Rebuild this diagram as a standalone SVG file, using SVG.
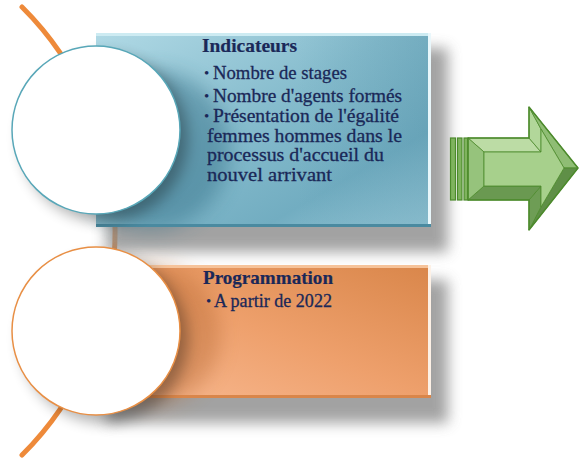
<svg xmlns="http://www.w3.org/2000/svg" width="582" height="459" viewBox="0 0 582 459">
  <style>
    .head { font-family: "Liberation Serif", "Times New Roman", serif; font-weight: bold; font-size: 19px; fill: #1a2858; stroke: #1a2858; stroke-width: 0.2; }
    .item { font-family: "Liberation Serif", "Times New Roman", serif; font-size: 19px; fill: #1a2858; stroke: #1a2858; stroke-width: 0.3; }
    .dot { font-family: "Liberation Serif", "Times New Roman", serif; font-size: 15px; fill: #1a2858; }
    .disc { fill: #ffffff; stroke-width: 1.5; }
    .ring { fill: none; stroke: #ee8a3a; stroke-width: 5; stroke-linecap: round; }
    .bar { fill: #7fb35e; stroke: #4c8a2c; stroke-width: 1.2; }
    .facet { stroke: #4c8a2c; stroke-width: 0.8; stroke-linejoin: round; }
  </style>
  <defs>
    <filter id="soft" x="-20%" y="-20%" width="140%" height="140%">
      <feGaussianBlur stdDeviation="7"/>
    </filter>
    <filter id="softer" x="-30%" y="-30%" width="160%" height="160%">
      <feGaussianBlur stdDeviation="10"/>
    </filter>
    <linearGradient id="blueFill" x1="0" y1="0" x2="1" y2="1">
      <stop offset="0" stop-color="#b0d9e5"/>
      <stop offset="0.45" stop-color="#86bccd"/>
      <stop offset="0.75" stop-color="#72adc1"/>
      <stop offset="1" stop-color="#9bcbda"/>
    </linearGradient>
    <linearGradient id="blueRight" x1="0" y1="0" x2="1" y2="0">
      <stop offset="0.6" stop-color="#3f7f97" stop-opacity="0"/>
      <stop offset="1" stop-color="#3f7f97" stop-opacity="0.22"/>
    </linearGradient>
    <linearGradient id="orangeFill" x1="1" y1="0" x2="0" y2="1">
      <stop offset="0" stop-color="#d9864a"/>
      <stop offset="0.5" stop-color="#eea06c"/>
      <stop offset="1" stop-color="#f9bb94"/>
    </linearGradient>
  </defs>

  <!-- large orange arc running behind both discs -->
  <g id="arc">
    <path class="ring" d="M 22 7 A 316 316 0 0 1 22 455"/>
  </g>

  <!-- Indicateurs panel -->
  <g id="indicateurs">
    <rect x="106" y="48" width="342" height="204" fill="#8c8c8c" opacity="0.8" filter="url(#soft)"/>
    <rect x="96" y="33" width="335" height="194" fill="url(#blueFill)"/>
    <rect x="96" y="33" width="335" height="194" fill="url(#blueRight)"/>
    <ellipse cx="150" cy="150" rx="80" ry="80" fill="#2d6a82" opacity="0.45" filter="url(#softer)"/>
    <rect x="96" y="33" width="335" height="3" fill="#cdebf2"/>
    <rect x="428" y="33" width="3" height="194" fill="#e9f7fb"/>
    <rect x="96" y="224" width="335" height="3" fill="#4a8aa0"/>
    <text class="head" x="202" y="52" textLength="95" lengthAdjust="spacingAndGlyphs">Indicateurs</text>
    <text class="dot" x="204" y="77.5">•</text>
    <text class="item" x="213" y="78.5" textLength="134" lengthAdjust="spacingAndGlyphs">Nombre de stages</text>
    <text class="dot" x="204" y="100.5">•</text>
    <text class="item" x="213" y="101.5" textLength="189" lengthAdjust="spacingAndGlyphs">Nombre d'agents formés</text>
    <text class="dot" x="204" y="121">•</text>
    <text class="item" x="213" y="122" textLength="186" lengthAdjust="spacingAndGlyphs">Présentation de l'égalité</text>
    <text class="item" x="207" y="141.5" textLength="195" lengthAdjust="spacingAndGlyphs">femmes hommes dans le</text>
    <text class="item" x="207" y="161" textLength="177" lengthAdjust="spacingAndGlyphs">processus d'accueil du</text>
    <text class="item" x="207" y="180.5" textLength="125" lengthAdjust="spacingAndGlyphs">nouvel arrivant</text>
  </g>

  <!-- Programmation panel -->
  <g id="programmation">
    <rect x="106" y="280" width="342" height="143" fill="#8c8c8c" opacity="0.8" filter="url(#soft)"/>
    <rect x="96" y="265" width="335" height="133" fill="url(#orangeFill)"/>
    <ellipse cx="150" cy="335" rx="70" ry="70" fill="#b0642e" opacity="0.4" filter="url(#softer)"/>
    <rect x="96" y="265" width="335" height="3" fill="#f6c39a"/>
    <rect x="428" y="265" width="3" height="133" fill="#fdf1e6"/>
    <rect x="96" y="395" width="335" height="3" fill="#d9864a"/>
    <text class="head" x="203" y="283.5" textLength="130" lengthAdjust="spacingAndGlyphs">Programmation</text>
    <text class="dot" x="206" y="306">•</text>
    <text class="item" x="214" y="307" textLength="118" lengthAdjust="spacingAndGlyphs">A partir de 2022</text>
  </g>

  <!-- discs -->
  <g id="disc-top">
    <circle cx="104" cy="138" r="84" fill="#000000" opacity="0.3" filter="url(#soft)"/>
    <circle class="disc" cx="96" cy="130" r="84" stroke="#58a7b8"/>
  </g>
  <g id="disc-bottom">
    <circle cx="104" cy="339" r="84" fill="#000000" opacity="0.3" filter="url(#soft)"/>
    <circle class="disc" cx="96" cy="331" r="84" stroke="#e88f45"/>
  </g>

  <!-- bevelled green arrow -->
  <g id="arrow">
    <rect class="bar" x="450.5" y="138" width="5" height="62"/>
    <rect class="bar" x="457.5" y="138" width="4.5" height="62"/>
    <rect class="bar" x="464" y="138" width="4" height="62"/>
    <polygon class="facet" fill="#bcdca5" points="468,138 529,138 541,152 484,152"/>
    <polygon class="facet" fill="#b2d79a" points="529,138 529,107 541,129 541,152"/>
    <polygon class="facet" fill="#8fbd74" points="529,107 578,168 564,168 541,129"/>
    <polygon class="facet" fill="#5f8f47" points="578,168 529,230 541,207 564,168"/>
    <polygon class="facet" fill="#6e9d55" points="529,230 529,200 541,186 541,207"/>
    <polygon class="facet" fill="#6a9951" points="529,200 468,200 484,186 541,186"/>
    <polygon class="facet" fill="#96c37c" points="468,200 468,138 484,152 484,186"/>
    <polygon class="facet" fill="#a7d08c" points="484,152 541,152 541,129 564,168 541,207 541,186 484,186"/>
    <polygon fill="none" stroke="#4c8a2c" stroke-width="1.5" stroke-linejoin="round" points="468,138 529,138 529,107 578,168 529,230 529,200 468,200"/>
  </g>
</svg>
